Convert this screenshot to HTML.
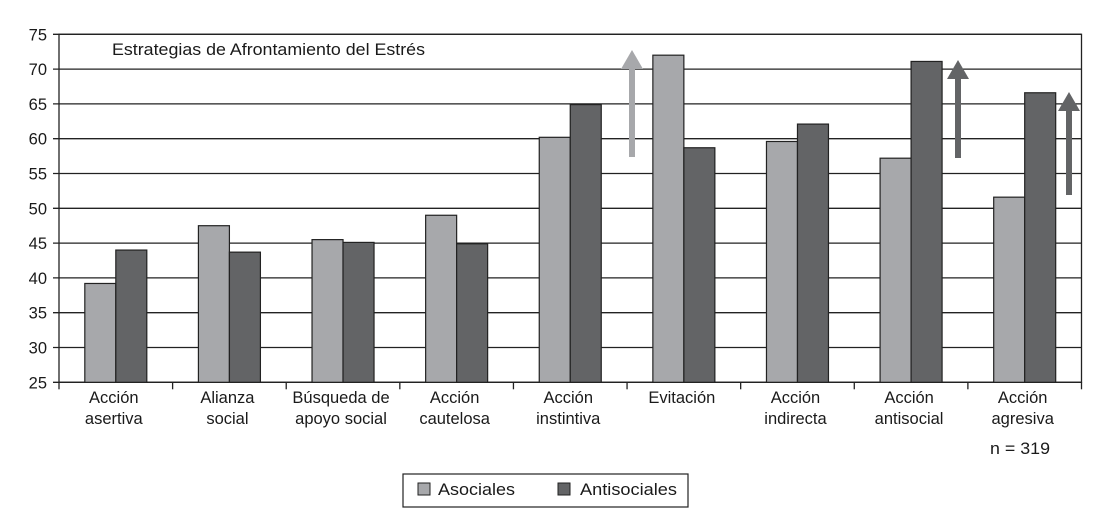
<!DOCTYPE html>
<html><head><meta charset="utf-8"><style>
body{margin:0;background:#fff}
svg text{font-family:"Liberation Sans",sans-serif;fill:#1a1a1a}
</style></head><body>
<svg id="chart" width="1105" height="517" viewBox="0 0 1105 517" xmlns="http://www.w3.org/2000/svg"></svg>
<script>
const categories=[["Acción","asertiva"],["Alianza","social"],["Búsqueda de","apoyo social"],["Acción","cautelosa"],["Acción","instintiva"],["Evitación",""],["Acción","indirecta"],["Acción","antisocial"],["Acción","agresiva"]];
const asociales=[39.2,47.5,45.5,49.0,60.2,72.0,59.6,57.2,51.6];
const antisociales=[44.0,43.7,45.1,44.9,64.9,58.7,62.1,71.1,66.6];
const yTicks=[25,30,35,40,45,50,55,60,65,70,75];
const svg=document.getElementById('chart');
const NS='http://www.w3.org/2000/svg';
const X0=59,X1=1081.5,Y0=382.3,Y1=34.3;
const cw=(X1-X0)/categories.length;
const y=v=>Y0-(v-25)/(75-25)*(Y0-Y1);
const xc=i=>X0+cw*(i+0.5);
function mk(t,a,p){const e=document.createElementNS(NS,t);for(const k in a)e.setAttribute(k,a[k]);(p||svg).appendChild(e);return e;}
yTicks.forEach(t=>{
 const g=mk('line',{x1:X0-6,x2:X1,y1:y(t),y2:y(t),stroke:'#222','stroke-width':1.3});
 
 
 const tx=mk('text',{x:47,y:y(t)+6,'text-anchor':'end','font-size':16.5});tx.textContent=t;
 
 
});
mk('rect',{x:X0,y:Y1,width:X1-X0,height:Y0-Y1,fill:'none',stroke:'#222','stroke-width':1.3});
for(let i=0;i<=categories.length;i++){mk('line',{x1:X0+cw*i,x2:X0+cw*i,y1:Y0,y2:Y0+7,stroke:'#222','stroke-width':1.3});}
const bw=31;
categories.forEach((c,i)=>{
 const b1=mk('rect',{x:xc(i)-bw,y:y(asociales[i]),width:bw,height:Y0-y(asociales[i]),fill:'#a7a8ab',stroke:'#222','stroke-width':1.2});
 
 
 const b2=mk('rect',{x:xc(i),y:y(antisociales[i]),width:bw,height:Y0-y(antisociales[i]),fill:'#636466',stroke:'#222','stroke-width':1.2});
 
 
 c.forEach((s,k)=>{const t=mk('text',{x:xc(i)-2,y:403+k*21,'text-anchor':'middle','font-size':16.5});t.textContent=s;
 
 });
});
function arrow(x,yb,yt,col,name){const g=mk('g',{});
 
 
 mk('rect',{x:x-3,y:yt+17,width:6,height:yb-yt-17,fill:col},g);
 mk('polygon',{points:`${x-11},${yt+19} ${x+11},${yt+19} ${x},${yt}`,fill:col},g);}
arrow(632,157,50,'#a7a8ab','arrow-evitacion');
arrow(958,158,60,'#636466','arrow-antisocial');
arrow(1069,195,92,'#636466','arrow-agresiva');
const title=mk('text',{x:112,y:55,'font-size':17,textLength:313,lengthAdjust:'spacingAndGlyphs'});title.textContent='Estrategias de Afrontamiento del Estrés';


const n=mk('text',{x:990,y:454,'font-size':17,textLength:60,lengthAdjust:'spacingAndGlyphs'});n.textContent='n = 319';


const lg=mk('g',{});


mk('rect',{x:403,y:474,width:285,height:33,fill:'#fff',stroke:'#222','stroke-width':1.2},lg);
mk('rect',{x:418,y:483,width:12,height:12,fill:'#a7a8ab',stroke:'#222'},lg);
const t1=mk('text',{x:438,y:495,'font-size':17,textLength:77,lengthAdjust:'spacingAndGlyphs'},lg);t1.textContent='Asociales';
mk('rect',{x:558,y:483,width:12,height:12,fill:'#636466',stroke:'#222'},lg);
const t2=mk('text',{x:580,y:495,'font-size':17,textLength:97,lengthAdjust:'spacingAndGlyphs'},lg);t2.textContent='Antisociales';
</script>
</body></html>
